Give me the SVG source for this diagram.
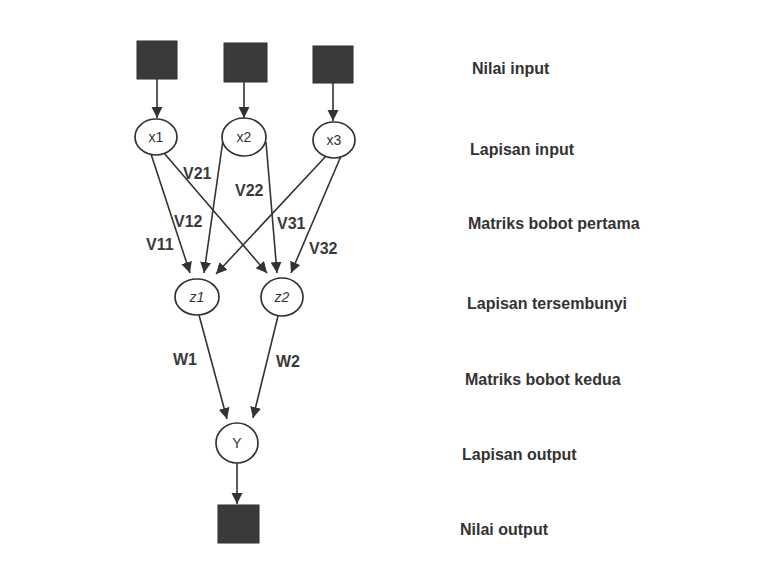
<svg xmlns="http://www.w3.org/2000/svg" width="784" height="570" viewBox="0 0 784 570">
  <defs>
    <marker id="head" markerUnits="userSpaceOnUse" markerWidth="12" markerHeight="12" refX="11" refY="5.5" orient="auto">
      <path d="M0,0 L11,5.5 L0,11 z" fill="#333"/>
    </marker>
    <style>
      .box { fill: #3a3a3a; stroke: #2e2e2e; stroke-width: 1; }
      .node { fill: #fff; stroke: #333; stroke-width: 1.7; }
      .edge { stroke: #333; stroke-width: 1.6; fill: none; marker-end: url(#head); }
      .nlabel { font-family: "Liberation Sans", Arial, sans-serif; font-size: 14px; fill: #333; text-anchor: middle; }
      .wlabel { font-family: "Liberation Sans", Arial, sans-serif; font-size: 16px; font-weight: bold; fill: #3a3a3a; }
      .side { font-family: "Liberation Sans", Arial, sans-serif; font-size: 16px; font-weight: bold; fill: #333; }
    </style>
  </defs>

  <rect width="784" height="570" fill="#fff"/>

  <!-- connectors -->
  <g id="connectors">
    <line class="edge" x1="157" y1="79" x2="157" y2="118"/>
    <line class="edge" x1="244" y1="82" x2="244" y2="118"/>
    <line class="edge" x1="333" y1="83" x2="333" y2="121"/>

    <line class="edge" x1="151" y1="154" x2="190" y2="273"/>
    <line class="edge" x1="164" y1="153" x2="267" y2="273"/>
    <line class="edge" x1="223" y1="140" x2="204" y2="273"/>
    <line class="edge" x1="266" y1="142" x2="277" y2="273"/>
    <line class="edge" x1="327" y1="155" x2="216" y2="274"/>
    <line class="edge" x1="341" y1="156" x2="291" y2="273"/>

    <line class="edge" x1="199" y1="315" x2="227" y2="419"/>
    <line class="edge" x1="278" y1="316" x2="253" y2="418"/>

    <line class="edge" x1="237" y1="463" x2="237" y2="504"/>
  </g>

  <!-- input values -->
  <g id="in1"><rect class="box" x="137" y="41" width="40" height="38"/></g>
  <g id="in2"><rect class="box" x="224" y="43" width="43" height="39"/></g>
  <g id="in3"><rect class="box" x="313" y="46" width="40" height="37"/></g>

  <!-- input layer -->
  <g id="x1"><ellipse class="node" cx="156" cy="137" rx="21" ry="18"/><text class="nlabel" x="156" y="142">x1</text></g>
  <g id="x2"><ellipse class="node" cx="244" cy="137" rx="22" ry="19"/><text class="nlabel" x="244" y="142">x2</text></g>
  <g id="x3"><ellipse class="node" cx="334" cy="140" rx="21" ry="18"/><text class="nlabel" x="334" y="145">x3</text></g>

  <!-- hidden layer -->
  <g id="z1"><ellipse class="node" cx="197" cy="297" rx="22" ry="18"/><text class="nlabel" x="197" y="302" font-style="italic">z1</text></g>
  <g id="z2"><ellipse class="node" cx="282" cy="297" rx="21" ry="19"/><text class="nlabel" x="282" y="302" font-style="italic">z2</text></g>

  <!-- output layer -->
  <g id="y"><ellipse class="node" cx="237" cy="443" rx="21" ry="20"/><text class="nlabel" x="237" y="448" font-size="13">Y</text></g>
  <g id="out"><rect class="box" x="218" y="505" width="41" height="38"/></g>

  <!-- weight labels -->
  <g id="weights">
    <text class="wlabel" x="183" y="179">V21</text>
    <text class="wlabel" x="235" y="196">V22</text>
    <text class="wlabel" x="174" y="227">V12</text>
    <text class="wlabel" x="146" y="250">V11</text>
    <text class="wlabel" x="277" y="229">V31</text>
    <text class="wlabel" x="309" y="254">V32</text>
    <text class="wlabel" x="173" y="365">W1</text>
    <text class="wlabel" x="276" y="367">W2</text>
  </g>

  <!-- layer captions -->
  <g id="captions">
    <text class="side" x="472" y="74">Nilai input</text>
    <text class="side" x="470" y="155">Lapisan input</text>
    <text class="side" x="468" y="229">Matriks bobot pertama</text>
    <text class="side" x="467" y="309">Lapisan tersembunyi</text>
    <text class="side" x="465" y="385">Matriks bobot kedua</text>
    <text class="side" x="462" y="460">Lapisan output</text>
    <text class="side" x="460" y="535">Nilai output</text>
  </g>
</svg>
